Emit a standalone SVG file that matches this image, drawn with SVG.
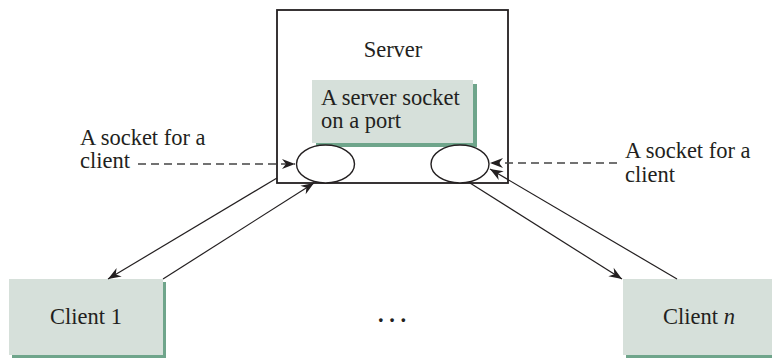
<svg xmlns="http://www.w3.org/2000/svg" width="772" height="358" viewBox="0 0 772 358">
<defs>
<style>
text{font-family:"Liberation Serif","Times New Roman",serif;font-size:22.5px;fill:#231f20}
.box{fill:#d6e0da}
.shadow{fill:#6fa58b}
.ln{stroke:#231f20;stroke-width:1.2;fill:none}
.dash{stroke:#444;stroke-width:1.3;fill:none;stroke-dasharray:8 5}
</style>
<marker id="ah" markerUnits="userSpaceOnUse" markerWidth="16" markerHeight="12" viewBox="-14 -6 16 12" refX="0" refY="0" orient="auto">
<path d="M0,0 L-13,-5 L-9,0 L-13,5 Z" fill="#231f20"/>
</marker>
</defs>
<rect width="772" height="358" fill="#fff"/>
<g id="server">
<rect x="277" y="10" width="231" height="173" fill="#fff" stroke="#231f20" stroke-width="1.8"/>
<text x="393" y="57" text-anchor="middle">Server</text>
</g>
<g id="server-socket">
<rect class="shadow" x="316" y="84" width="161" height="63"/>
<rect class="box" x="312" y="80" width="161" height="63"/>
<text x="321" y="105">A server socket</text>
<text x="321" y="128">on a port</text>
</g>
<g id="socket-left">
<ellipse cx="325.5" cy="164" rx="29" ry="19" fill="#fff" stroke="#231f20" stroke-width="1.4"/>
</g>
<g id="socket-right">
<ellipse cx="460" cy="164" rx="29" ry="19" fill="#fff" stroke="#231f20" stroke-width="1.4"/>
</g>
<g id="label-left">
<text x="80" y="145">A socket for a</text>
<text x="80" y="168">client</text>
</g>
<g id="label-right">
<text x="625" y="158">A socket for a</text>
<text x="625" y="182">client</text>
</g>
<g id="client1">
<rect class="shadow" x="12" y="282" width="154" height="76"/>
<rect class="box" x="9" y="279" width="154" height="76"/>
<text x="86" y="324" text-anchor="middle">Client 1</text>
</g>
<g id="clientn">
<rect class="shadow" x="626" y="282" width="160" height="76"/>
<rect class="box" x="623" y="279" width="160" height="76"/>
<text x="663" y="324">Client <tspan font-style="italic">n</tspan></text>
</g>
<g id="ellipsis">
<text x="392" y="322" text-anchor="middle" font-weight="bold">. . .</text>
</g>
<g id="connectors">
<line class="dash" x1="138" y1="164" x2="295" y2="164" marker-end="url(#ah)"/>
<line class="dash" x1="617" y1="163" x2="490" y2="163" marker-end="url(#ah)"/>
<line class="ln" x1="277" y1="178" x2="108" y2="279" marker-end="url(#ah)"/>
<line class="ln" x1="163" y1="279" x2="314" y2="183" marker-end="url(#ah)"/>
<line class="ln" x1="470" y1="183" x2="622" y2="279" marker-end="url(#ah)"/>
<line class="ln" x1="677" y1="279" x2="490" y2="169" marker-end="url(#ah)"/>
</g>
</svg>
